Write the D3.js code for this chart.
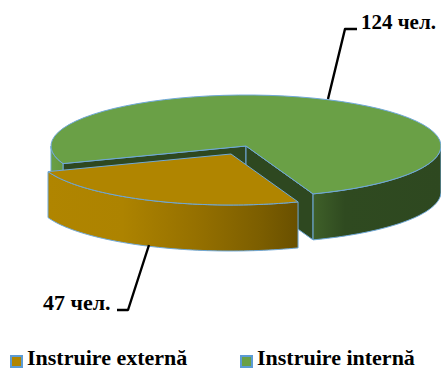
<!DOCTYPE html>
<html><head><meta charset="utf-8">
<script src="https://cdn.jsdelivr.net/npm/d3@7"></script>
<style>html,body{margin:0;padding:0;background:#fff}svg{display:block}
text{font-family:"Liberation Serif",serif;font-weight:700;fill:#000}</style></head>
<body><svg id="c" width="441" height="369"></svg>
<script>
const categories = ["Instruire externă", "Instruire internă"];
const values = [47, 124];
const labels = ["47 чел.", "124 чел."];
const topColors = ["#b08500", "#6aa046"];

const svg = d3.select("#c");
const W = 195, R = 51, DEPTH = 46, EDGE = "#6fa8d8";
const C = [{x:231,y:154},{x:246,y:146}];
const slices = d3.pie().sort(null).value(d=>d)(values);
// foreshortening of the 3-D view: pie angle to drawn angle (0 = bottom, clockwise toward the left)
const a0 = -0.351, a1 = 1.218;
const view = d3.scaleLinear().domain([0, slices[0].endAngle, 2*Math.PI]).range([a0, a1, a0 + 2*Math.PI]);
const px = (c,t,dz=0)=>[c.x - W*Math.sin(t), c.y + R*Math.cos(t) + dz];
const line = d3.line();

function arcPts(c,t0,t1,dz){ // sampled ellipse edge
  return d3.range(0,61).map(i=>px(c,t0+(t1-t0)*i/60,dz));
}
const defs = svg.append("defs");
function grad(id,stops,x1,x2){
  const g = defs.append("linearGradient").attr("id",id).attr("gradientUnits","userSpaceOnUse")
    .attr("x1",x1).attr("x2",x2).attr("y1",0).attr("y2",0);
  stops.forEach(s=>g.append("stop").attr("offset",s[0]).attr("stop-color",s[1]));
}
grad("gO",[[0,"#b08500"],[.3,"#ad8300"],[.6,"#957000"],[.85,"#7c5e00"],[1,"#695000"]],47,298);
grad("gG",[[0,"#3f6029"],[.25,"#2f4a20"],[1,"#2e4820"]],313,441);
grad("gL",[[0,"#6aa046"],[1,"#64983f"]],51,63);

const layer = svg.append("g").attr("stroke",EDGE).attr("stroke-width",1).attr("stroke-linejoin","round");
const face = (pts,fill)=>layer.append("path").attr("d",line(pts)+"Z").attr("fill",fill);

// internal slice (drawn first)
{
  const c=C[1], s=view(slices[1].startAngle), e=view(slices[1].endAngle);
  const inner = "#2e4820";
  face([[c.x,c.y],px(c,s),px(c,s,DEPTH),[c.x,c.y+DEPTH]],inner);
  face([[c.x,c.y],px(c,e),px(c,e,DEPTH),[c.x,c.y+DEPTH]],inner);
  const lEnd = Math.PI/2;
  face(arcPts(c,s,lEnd,0).concat(arcPts(c,lEnd,s,DEPTH)),"url(#gL)");
  const rStart = 3*Math.PI/2;
  face(arcPts(c,rStart,e,0).concat(arcPts(c,e,rStart,DEPTH)),"url(#gG)");
  face([[c.x,c.y]].concat(arcPts(c,s,e,0)),topColors[1]);
}
// external slice
{
  const c=C[0], s=view(slices[0].startAngle), e=view(slices[0].endAngle);
  face(arcPts(c,s,e,0).concat(arcPts(c,e,s,DEPTH)),"url(#gO)");
  face([[c.x,c.y]].concat(arcPts(c,s,e,0)),topColors[0]);
}

// leader lines
const leaders = [[[328,99],[345,29],[357,29]],[[149,245],[128,310],[117,310]]];
leaders.forEach(l=>svg.append("path").attr("d",line(l)).attr("fill","none").attr("stroke","#000").attr("stroke-width",2.4).attr("stroke-linejoin","round"));

// data labels
svg.append("text").attr("x",361).attr("y",29).attr("font-size",21).text(labels[1]);
svg.append("text").attr("x",43).attr("y",310).attr("font-size",22).text(labels[0]);

// legend
const legendX = [10,240], legend = svg.append("g");
categories.forEach((n,i)=>{
  legend.append("rect").attr("x",legendX[i]+1).attr("y",356).attr("width",11).attr("height",11)
    .attr("fill",topColors[i]).attr("stroke","#5b9bd5").attr("stroke-width",2);
  legend.append("text").attr("x",legendX[i]+17).attr("y",364.5).attr("font-size",22).text(n);
});
</script></body></html>
